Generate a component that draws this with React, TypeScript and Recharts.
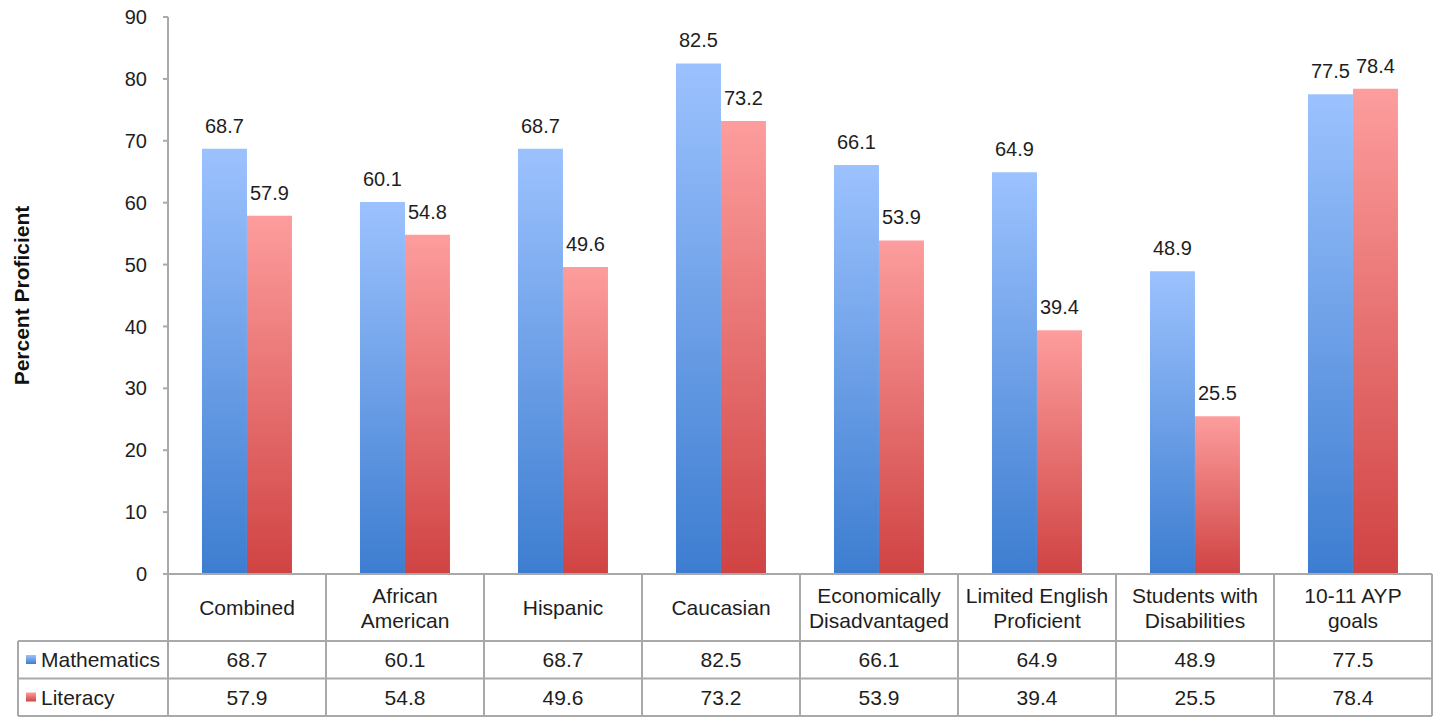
import { BarChart, Bar, XAxis, YAxis, LabelList, Label } from 'recharts';

const categories = [
  'Combined',
  'African\nAmerican',
  'Hispanic',
  'Caucasian',
  'Economically\nDisadvantaged',
  'Limited English\nProficient',
  'Students with\nDisabilities',
  '10-11 AYP\ngoals',
];
const mathematics = [68.7, 60.1, 68.7, 82.5, 66.1, 64.9, 48.9, 77.5];
const literacy = [57.9, 54.8, 49.6, 73.2, 53.9, 39.4, 25.5, 78.4];
const yTicks = [0, 10, 20, 30, 40, 50, 60, 70, 80, 90];

const data = categories.map((name, i) => ({
  name,
  mathematics: mathematics[i],
  literacy: literacy[i],
}));

// chart frame
const WIDTH = 1437;
const HEIGHT = 717;
const MARGIN = { top: 17, right: 5, left: 0, bottom: 0 };
const AXIS_WIDTH = 168;
const TABLE_HEIGHT = 143;
const BAND = (WIDTH - MARGIN.right - AXIS_WIDTH) / categories.length;

// data table rows, measured down from the x axis line
const HEADER_H = 67;
const ROW_H = 37.5;
const LEGEND_LEFT = 18;

const FONT = '"Liberation Sans", Arial, Helvetica, sans-serif';
const TEXT = '#1e1e1e';
const GRID = '#a9a9a9';

const fmt = (v: any) => Number(v).toFixed(1);

// each x tick draws one column of the data table under the plot
const TableColumn = (props: any) => {
  const { x, y, payload } = props;
  const i = payload.index;
  const left = x - BAND / 2;
  const right = x + BAND / 2;
  const top = y;
  const row1 = top + HEADER_H;
  const row2 = row1 + ROW_H;
  const bottom = row2 + ROW_H;
  const lines = String(payload.value).split('\n');
  const headerMid = top + HEADER_H / 2;
  const lineGap = 25;

  return (
    <g fontFamily={FONT} fontSize={21} fill={TEXT}>
      <line x1={left} y1={top} x2={left} y2={bottom} stroke={GRID} strokeWidth={2} />
      {i === categories.length - 1 && (
        <line x1={right} y1={top} x2={right} y2={bottom} stroke={GRID} strokeWidth={2} />
      )}
      <line x1={left} y1={row1} x2={right} y2={row1} stroke={GRID} strokeWidth={2} />
      <line x1={left} y1={row2} x2={right} y2={row2} stroke={GRID} strokeWidth={2} />
      <line x1={left} y1={bottom} x2={right} y2={bottom} stroke={GRID} strokeWidth={2} />

      {lines.map((ln, k) => (
        <text
          key={k}
          x={x}
          y={headerMid + (k - (lines.length - 1) / 2) * lineGap}
          textAnchor="middle"
          dominantBaseline="central"
        >
          {ln}
        </text>
      ))}
      <text x={x} y={row1 + ROW_H / 2} textAnchor="middle" dominantBaseline="central">
        {fmt(mathematics[i])}
      </text>
      <text x={x} y={row2 + ROW_H / 2} textAnchor="middle" dominantBaseline="central">
        {fmt(literacy[i])}
      </text>

      {/* legend cells on the left of the table */}
      {i === 0 && (
        <g>
          <line x1={LEGEND_LEFT} y1={row1} x2={left} y2={row1} stroke={GRID} strokeWidth={2} />
          <line x1={LEGEND_LEFT} y1={row2} x2={left} y2={row2} stroke={GRID} strokeWidth={2} />
          <line x1={LEGEND_LEFT} y1={bottom} x2={left} y2={bottom} stroke={GRID} strokeWidth={2} />
          <line x1={LEGEND_LEFT} y1={row1} x2={LEGEND_LEFT} y2={bottom} stroke={GRID} strokeWidth={2} />
          <rect x={LEGEND_LEFT + 8} y={row1 + 14} width={10} height={9} fill="url(#mathGrad)" />
          <rect x={LEGEND_LEFT + 8} y={row2 + 14} width={10} height={9} fill="url(#litGrad)" />
          <text x={LEGEND_LEFT + 23} y={row1 + ROW_H / 2} dominantBaseline="central">
            Mathematics
          </text>
          <text x={LEGEND_LEFT + 23} y={row2 + ROW_H / 2} dominantBaseline="central">
            Literacy
          </text>
        </g>
      )}
    </g>
  );
};

const AxisTitle = (props: any) => {
  const { x, y, height } = props.viewBox;
  const cx = x + 21;
  const cy = y + height / 2;
  return (
    <text
      x={cx}
      y={cy}
      transform={`rotate(-90 ${cx} ${cy})`}
      textAnchor="middle"
      dominantBaseline="central"
      fontFamily={FONT}
      fontSize={21}
      fontWeight="bold"
      fill="#111"
    >
      Percent Proficient
    </text>
  );
};

export default function App() {
  return (
    <div
      style={{
        position: 'absolute',
        left: 0,
        top: 0,
        width: WIDTH,
        height: HEIGHT,
        background: '#fff',
        fontFamily: FONT,
      }}
    >
      <BarChart
        width={WIDTH}
        height={HEIGHT}
        data={data}
        margin={MARGIN}
        barCategoryGap="21.5%"
        barGap={0}
      >
        <defs>
          <linearGradient id="mathGrad" x1="0" y1="0" x2="0" y2="1">
            <stop offset="0%" stopColor="#9cc2fe" />
            <stop offset="100%" stopColor="#3d7dd0" />
          </linearGradient>
          <linearGradient id="litGrad" x1="0" y1="0" x2="0" y2="1">
            <stop offset="0%" stopColor="#fd9d9d" />
            <stop offset="100%" stopColor="#d04343" />
          </linearGradient>
        </defs>
        <YAxis
          type="number"
          domain={[0, 90]}
          ticks={yTicks}
          width={AXIS_WIDTH}
          axisLine={{ stroke: GRID, strokeWidth: 2 }}
          tickLine={{ stroke: GRID, strokeWidth: 2 }}
          tickSize={5}
          tickMargin={16}
          tick={{ fill: TEXT, fontSize: 20, fontFamily: FONT }}
        >
          <Label content={AxisTitle} />
        </YAxis>
        <XAxis
          dataKey="name"
          height={TABLE_HEIGHT}
          interval={0}
          axisLine={{ stroke: GRID, strokeWidth: 2 }}
          tickLine={false}
          tickSize={0}
          tickMargin={0}
          tick={TableColumn}
        />
        <Bar dataKey="mathematics" fill="url(#mathGrad)" isAnimationActive={false}>
          <LabelList
            dataKey="mathematics"
            position="top"
            offset={16}
            formatter={fmt}
            style={{ fill: TEXT, fontSize: 20, fontFamily: FONT }}
          />
        </Bar>
        <Bar dataKey="literacy" fill="url(#litGrad)" isAnimationActive={false}>
          <LabelList
            dataKey="literacy"
            position="top"
            offset={16}
            formatter={fmt}
            style={{ fill: TEXT, fontSize: 20, fontFamily: FONT }}
          />
        </Bar>
      </BarChart>
    </div>
  );
}
